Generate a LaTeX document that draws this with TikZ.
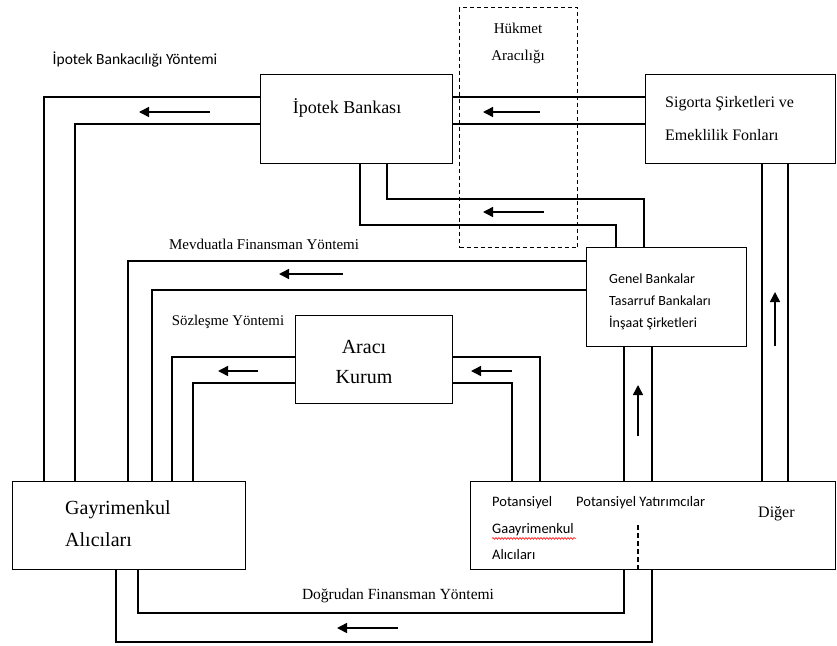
\documentclass[tikz,border=0pt]{standalone}
\usepackage{fontspec}
\setmainfont{Liberation Serif}
\newfontfamily\calfont{Carlito}
\usetikzlibrary{arrows.meta,decorations.pathmorphing}
\begin{document}
\begin{tikzpicture}[x=1pt,y=-1pt,
  box/.style={draw,line width=1.1pt,inner sep=0pt,anchor=north west},
  link/.style={line width=1.1pt},
  flow/.style={line width=1.5pt,-{Triangle[length=10pt,width=10pt]}},
  every node/.append style={inner sep=0pt},
  serif/.style={font=\fontsize{#1}{#1}\selectfont},
  sans/.style={font=\calfont\fontsize{#1}{#1}\selectfont}]
\useasboundingbox (0,0) rectangle (837,645);
% boxes
\node[box,minimum width=192pt,minimum height=89pt] (ipotek) at (260,74) {};
\node[box,minimum width=190pt,minimum height=89pt] (sigorta) at (645,74) {};
\node[box,dashed,dash pattern=on 4pt off 3pt,minimum width=118pt,minimum height=240pt] (hukmet) at (459,7) {};
\node[box,minimum width=160pt,minimum height=99pt] (genel) at (586,247) {};
\node[box,minimum width=157pt,minimum height=88pt] (araci) at (295,315) {};
\node[box,minimum width=233pt,minimum height=88pt] (gayri) at (12,481) {};
\node[box,minimum width=365pt,minimum height=88pt] (potans) at (470,481) {};
% texts in boxes
\node[serif=18] (tipotek) at (347,108) {İpotek Bankası};
\node[anchor=west,align=left,font=\fontsize{16}{33}\selectfont] (tsig) at (665,118.5) {Sigorta Şirketleri ve\\Emeklilik Fonları};
\node[align=center,font=\fontsize{15}{27}\selectfont] (thuk) at (518,43) {Hükmet\\Aracılığı};
\node[anchor=west,align=left,font=\calfont\fontsize{14}{22}\selectfont] (tgen) at (609,302) {Genel Bankalar\\Tasarruf Bankaları\\İnşaat Şirketleri};
\node[align=center,font=\fontsize{20}{30}\selectfont] (tara) at (364,362) {Aracı\\Kurum};
\node[anchor=west,align=left,font=\fontsize{20}{32}\selectfont] (tgay) at (65,524) {Gayrimenkul\\Alıcıları};
\node[anchor=west,sans=14.5] (tpot1) at (492,503) {Potansiyel};
\node[anchor=west,sans=14.5] (tpot2) at (492,530) {Gaayrimenkul};
\node[anchor=west,sans=14.5] (tpot3) at (492,555) {Alıcıları};
\node[anchor=west,sans=14.5] (tpy) at (576,503) {Potansiyel Yatırımcılar};
\node[anchor=west,serif=16] (tdig) at (758,514) {Diğer};
\draw[red,line width=0.6pt,decorate,decoration={snake,amplitude=0.9pt,segment length=3pt}] (tpot2.south west) ++(0,2) -- ++(84,0);
% method labels
\node[sans=15.5] (l1) at (135,60) {İpotek Bankacılığı Yöntemi};
\node[serif=15] (l2) at (264,244) {Mevduatla Finansman Yöntemi};
\node[serif=14.8] (l3) at (228,322) {Sözleşme Yöntemi};
\node[serif=15.5] (l4) at (398,596) {Doğrudan Finansman Yöntemi};
% connectors
\draw[link] (ipotek.west |- 0,97) -| (gayri.north -| 44,0);
\draw[link] (ipotek.west |- 0,124) -| (gayri.north -| 75,0);
\draw[link] (sigorta.west |- 0,97) -- (ipotek.east |- 0,97);
\draw[link] (sigorta.west |- 0,124) -- (ipotek.east |- 0,124);
\draw[link] (ipotek.south -| 360,0) |- (616,225) -- (genel.north -| 616,0);
\draw[link] (ipotek.south -| 387,0) |- (644,199) -- (genel.north -| 644,0);
\draw[link] (genel.west |- 0,261) -| (gayri.north -| 128,0);
\draw[link] (genel.west |- 0,290) -| (gayri.north -| 152,0);
\draw[link] (araci.west |- 0,357) -| (gayri.north -| 172,0);
\draw[link] (araci.west |- 0,383) -| (gayri.north -| 193,0);
\draw[link] (araci.east |- 0,357) -| (potans.north -| 540,0);
\draw[link] (araci.east |- 0,383) -| (potans.north -| 512,0);
\draw[link] (genel.south -| 624,0) -- (potans.north -| 624,0);
\draw[link] (genel.south -| 652,0) -- (potans.north -| 652,0);
\draw[link] (sigorta.south -| 762,0) -- (potans.north -| 762,0);
\draw[link] (sigorta.south -| 788,0) -- (potans.north -| 788,0);
\draw[link] (gayri.south -| 138,0) |- (624,613) -- (potans.south -| 624,0);
\draw[link] (gayri.south -| 116,0) |- (652,642) -- (potans.south -| 652,0);
\draw[link,dashed,dash pattern=on 5pt off 3pt] (638,525) -- (potans.south -| 638,0);
% direction arrows
\draw[flow] (210,112) -- (139,112);
\draw[flow] (540,112) -- (483,112);
\draw[flow] (544,212) -- (483,212);
\draw[flow] (343,274) -- (279,274);
\draw[flow] (258,371) -- (218,371);
\draw[flow] (512,371) -- (471,371);
\draw[flow] (638,436) -- (638,385);
\draw[flow] (775,346) -- (775,292);
\draw[flow] (398,628) -- (337,628);
\end{tikzpicture}
\end{document}
